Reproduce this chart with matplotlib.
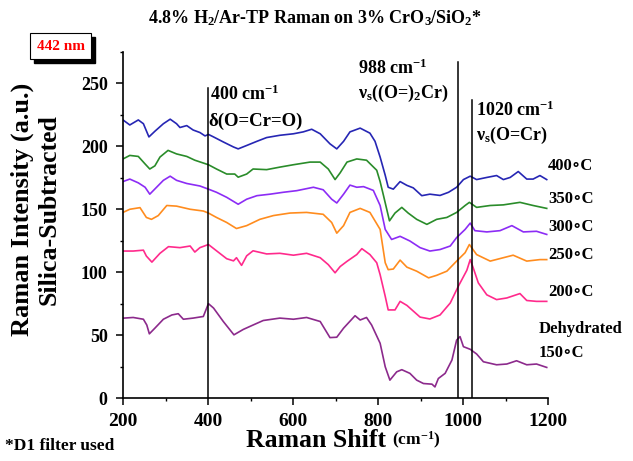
import numpy as np
import matplotlib
matplotlib.use("Agg")
import matplotlib.pyplot as plt
from matplotlib.patches import Rectangle

plt.rcParams['font.family'] = ['Liberation Serif', 'DejaVu Serif']
plt.rcParams['font.weight'] = 'bold'
plt.rcParams['mathtext.fontset'] = 'custom'
plt.rcParams['mathtext.rm'] = 'Liberation Serif:bold'
plt.rcParams['mathtext.it'] = 'Liberation Serif:bold'
plt.rcParams['mathtext.bf'] = 'Liberation Serif:bold'

# --- data (Raman shift cm-1, intensity a.u.) ---
x_400 = [200, 216, 236, 248, 261, 275, 295, 311, 326, 334, 350, 365, 381, 393, 401, 413, 436, 460, 471, 491,
         515, 538, 569, 601, 624, 644, 664, 687, 703, 719, 734, 758, 781, 793, 805, 817, 824, 836, 852, 868,
         883, 903, 922, 946, 966, 985, 1001, 1017, 1032, 1056, 1079, 1095, 1111, 1130, 1150, 1165, 1181, 1197]
y_400 = [221, 217, 221, 218, 207.5, 212, 218, 221.6, 218, 215, 216.5, 213, 211, 208.3, 209.5, 207.5, 203.5, 199.5, 198, 200.7,
         204, 207, 208.8, 210, 211.5, 213.6, 210, 202, 198, 204, 211.5, 214.5, 210.5, 204, 191.5, 177, 167.5, 166, 172, 169,
         167, 160.8, 162, 161, 163.5, 167.5, 173.6, 176.3, 173.6, 175.3, 176.8, 173.6, 175.3, 180, 174, 174, 176.8, 173.6]

x_350 = [200, 216, 236, 252, 263, 275, 287, 306, 326, 350, 369, 401, 420, 444, 463, 471, 491, 506, 538, 569,
         601, 640, 664, 683, 699, 711, 727, 750, 773, 797, 805, 813, 827, 840, 856, 871, 891, 915, 938, 962,
         985, 1005, 1015, 1032, 1064, 1095, 1134, 1165, 1197]
y_350 = [190, 192.8, 192, 186, 182, 184.5, 191.5, 196.8, 194, 192, 189, 185.4, 182, 178, 178, 175.5, 178, 182, 181.5, 183.5,
         185.4, 187.5, 187.5, 182, 173.6, 179, 187.5, 190, 189, 181, 172, 160.8, 140.8, 147, 151.5, 147, 142, 138, 142, 143.5,
         147.5, 153, 155.5, 151.5, 153, 153.5, 155.5, 153, 150.7]

x_300 = [200, 216, 236, 252, 263, 279, 295, 311, 326, 350, 381, 401, 420, 444, 471, 491, 515, 546, 577, 609,
         648, 671, 691, 703, 719, 734, 750, 766, 789, 805, 817, 832, 852, 875, 899, 922, 946, 970, 985, 1005,
         1017, 1028, 1056, 1087, 1115, 1142, 1173, 1197]
y_300 = [172, 174, 171, 167.5, 162, 167.5, 173, 176.3, 173, 170.5, 168.5, 166, 163.5, 159.5, 154, 158, 160.8, 162, 163.5, 164.8,
         167.5, 165.5, 158, 155, 162, 169.2, 167.5, 168, 165, 153, 134, 126, 128.5, 124.8, 119.5, 116.8, 118, 120.8, 127.5, 134,
         139, 133, 132, 133, 137, 132, 132.5, 130]

x_250 = [200, 216, 240, 255, 267, 283, 303, 326, 358, 389, 401, 420, 444, 467, 491, 522, 554, 593, 632, 671,
         691, 703, 719, 734, 758, 781, 805, 817, 824, 836, 852, 868, 891, 919, 938, 962, 985, 1005, 1015, 1032,
         1064, 1095, 1118, 1150, 1181, 1197]
y_250 = [147.5, 150, 151.3, 143.5, 142, 145, 153, 152.5, 150, 148.6, 147, 143.5, 139.5, 134.7, 137, 142, 145, 147, 147.5, 146,
         139.5, 131, 137, 147.5, 150.7, 147.5, 134, 107.5, 102, 102.5, 109.6, 104, 100.8, 95.5, 97.5, 100.8, 108.8, 115.5, 122, 114,
         108.8, 111.5, 113.5, 108.8, 110, 110]

x_200 = [202, 224, 248, 255, 268, 287, 307, 334, 358, 369, 381, 401, 420, 444, 460, 467, 479, 491, 506, 538,
         569, 601, 632, 664, 683, 699, 711, 727, 750, 762, 781, 797, 805, 817, 824, 840, 852, 868, 899, 922,
         946, 970, 989, 1009, 1017, 1024, 1036, 1056, 1079, 1103, 1134, 1150, 1173, 1197]
y_200 = [116.8, 116.8, 117.5, 112.8, 108, 115, 120.3, 119.5, 120.8, 116, 119.5, 122, 117, 110.7, 109, 111.5, 105.4, 113, 117, 114.5,
         115, 113.5, 115, 111.5, 106, 99.5, 104.5, 108.6, 114, 118.7, 114, 107.5, 98, 80.8, 70, 70, 76.8, 73.6, 64.3, 62.8,
         66, 75.5, 88.8, 101.5, 110, 103.5, 91.5, 82, 78.2, 79.5, 83, 77.5, 76.8, 76.8]

x_150 = [202, 224, 248, 256, 262, 275, 295, 315, 330, 342, 365, 389, 401, 413, 436, 461, 483, 506, 530, 569,
         601, 632, 664, 687, 703, 719, 746, 758, 773, 785, 805, 817, 828, 844, 856, 875, 891, 907, 927, 934,
         942, 958, 974, 985, 993, 1001, 1017, 1032, 1048, 1079, 1103, 1126, 1150, 1173, 1197]
y_150 = [63.5, 64, 62.6, 58, 51, 55.5, 62.6, 66, 67, 62.6, 63.5, 64.8, 75, 71.5, 60.8, 50.2, 54.5, 58, 61.6, 63.5,
         62.6, 64, 60.8, 48, 48.3, 55.5, 65.4, 62, 64, 58, 43.5, 24.8, 14.2, 20.8, 22.5, 19.6, 14.2, 11.5, 11, 8.8,
         15.5, 19.6, 30.2, 46, 48.8, 40.8, 38.7, 35, 28.8, 26.4, 27, 29.6, 26.4, 27, 24.3]

series = [
    (x_400, y_400, '#2626b4'),
    (x_350, y_350, '#2a8c2a'),
    (x_300, y_300, '#8c2cf5'),
    (x_250, y_250, '#ff8c1e'),
    (x_200, y_200, '#ff2a8c'),
    (x_150, y_150, '#8c2a8c'),
]

# right-hand labels: (text, x, y in data units)
temp_labels = [("400∘C", 1200, 184), ("350∘C", 1200, 158), ("300∘C", 1200, 136), ("250∘C", 1200, 114),
               ("200∘C", 1200, 84), ("Dehydrated", 1178, 55), ("150∘C", 1178, 36)]

# vertical marker lines: (position, top in data units)
marker_lines = [(400, 246), (988, 267), (1020, 237)]

fig = plt.figure(figsize=(6.33, 4.61), dpi=100)
ax = fig.add_axes([123/633, 1-398/461, 425/633, 346/461])

for xs, ys, c in series:
    ax.plot(xs, ys, color=c, lw=1.2)

for xv, top in marker_lines:
    ax.plot([xv, xv], [0, top], color='black', lw=1.1)

ax.set_xlim(200, 1200)
ax.set_ylim(0, 275)
ax.set_xticks([200, 400, 600, 800, 1000, 1200])
ax.set_xticks(np.arange(300, 1200, 200), minor=True)
ax.set_yticks([0, 50, 100, 150, 200, 250])
ax.set_yticks(np.arange(25, 280, 50), minor=True)
ax.spines['top'].set_visible(False)
ax.spines['right'].set_visible(False)
for s in ['left', 'bottom']:
    ax.spines[s].set_linewidth(1.2)
ax.tick_params(which='major', direction='out', length=5, width=1.1)
ax.tick_params(which='minor', direction='out', length=2.5, width=1.0)
ax.tick_params(axis='y', labelsize=13, pad=6)
ax.tick_params(axis='x', labelsize=14, pad=6)
for lab in ax.get_xticklabels() + ax.get_yticklabels():
    lab.set_fontweight('bold')

# peak annotations
ax.text(405, 241, "400 cm$^{-1}$", fontsize=13, va='center', ha='left')
ax.text(402, 220, "δ(O=Cr=O)", fontsize=13.5, va='center', ha='left')
ax.text(753, 262, "988 cm$^{-1}$", fontsize=13, va='center', ha='left')
ax.text(752, 242, "ν$_s$((O=)$_2$Cr)", fontsize=13, va='center', ha='left')
ax.text(1030, 229, "1020 cm$^{-1}$", fontsize=13, va='center', ha='left')
ax.text(1031, 209, "ν$_s$(O=Cr)", fontsize=13, va='center', ha='left')

for txt, xv, yv in temp_labels:
    ax.text(xv, yv, txt, fontsize=12, va='center', ha='left', clip_on=False)

# titles and axis labels
fig.text(0.497, 0.96, "4.8% H$_2$/Ar-TP Raman on 3% CrO$_3$/SiO$_2$*", fontsize=13,
         ha='center', va='center')
fig.text(0.035, 0.545, "Raman Intensity (a.u.)", fontsize=19, rotation=90, ha='center', va='center')
fig.text(0.077, 0.545, "Silica-Subtracted", fontsize=18.5, rotation=90, ha='center', va='center')
fig.text(0.62, 0.045, "Raman Shift ", fontsize=18.5, ha='right', va='center')
fig.text(0.62, 0.045, "(cm$^{-1}$)", fontsize=12.5, ha='left', va='center')
fig.text(0.008, 0.032, "*D1 filter used", fontsize=12.5, ha='left', va='center')

# "442 nm" box with drop shadow
bx, by, bw, bh = 30/633, 1-59/461, 61/633, 26/461
fig.patches.append(Rectangle((bx + 4/633, by - 4/461), bw, bh, transform=fig.transFigure,
                             facecolor='black', edgecolor='black', zorder=1))
fig.patches.append(Rectangle((bx, by), bw, bh, transform=fig.transFigure,
                             facecolor='white', edgecolor='black', lw=0.8, zorder=2))
fig.text(bx + bw/2, by + bh/2, "442 nm", color='red', fontsize=11, ha='center', va='center', zorder=3)

fig.savefig("out.png", dpi=100)
